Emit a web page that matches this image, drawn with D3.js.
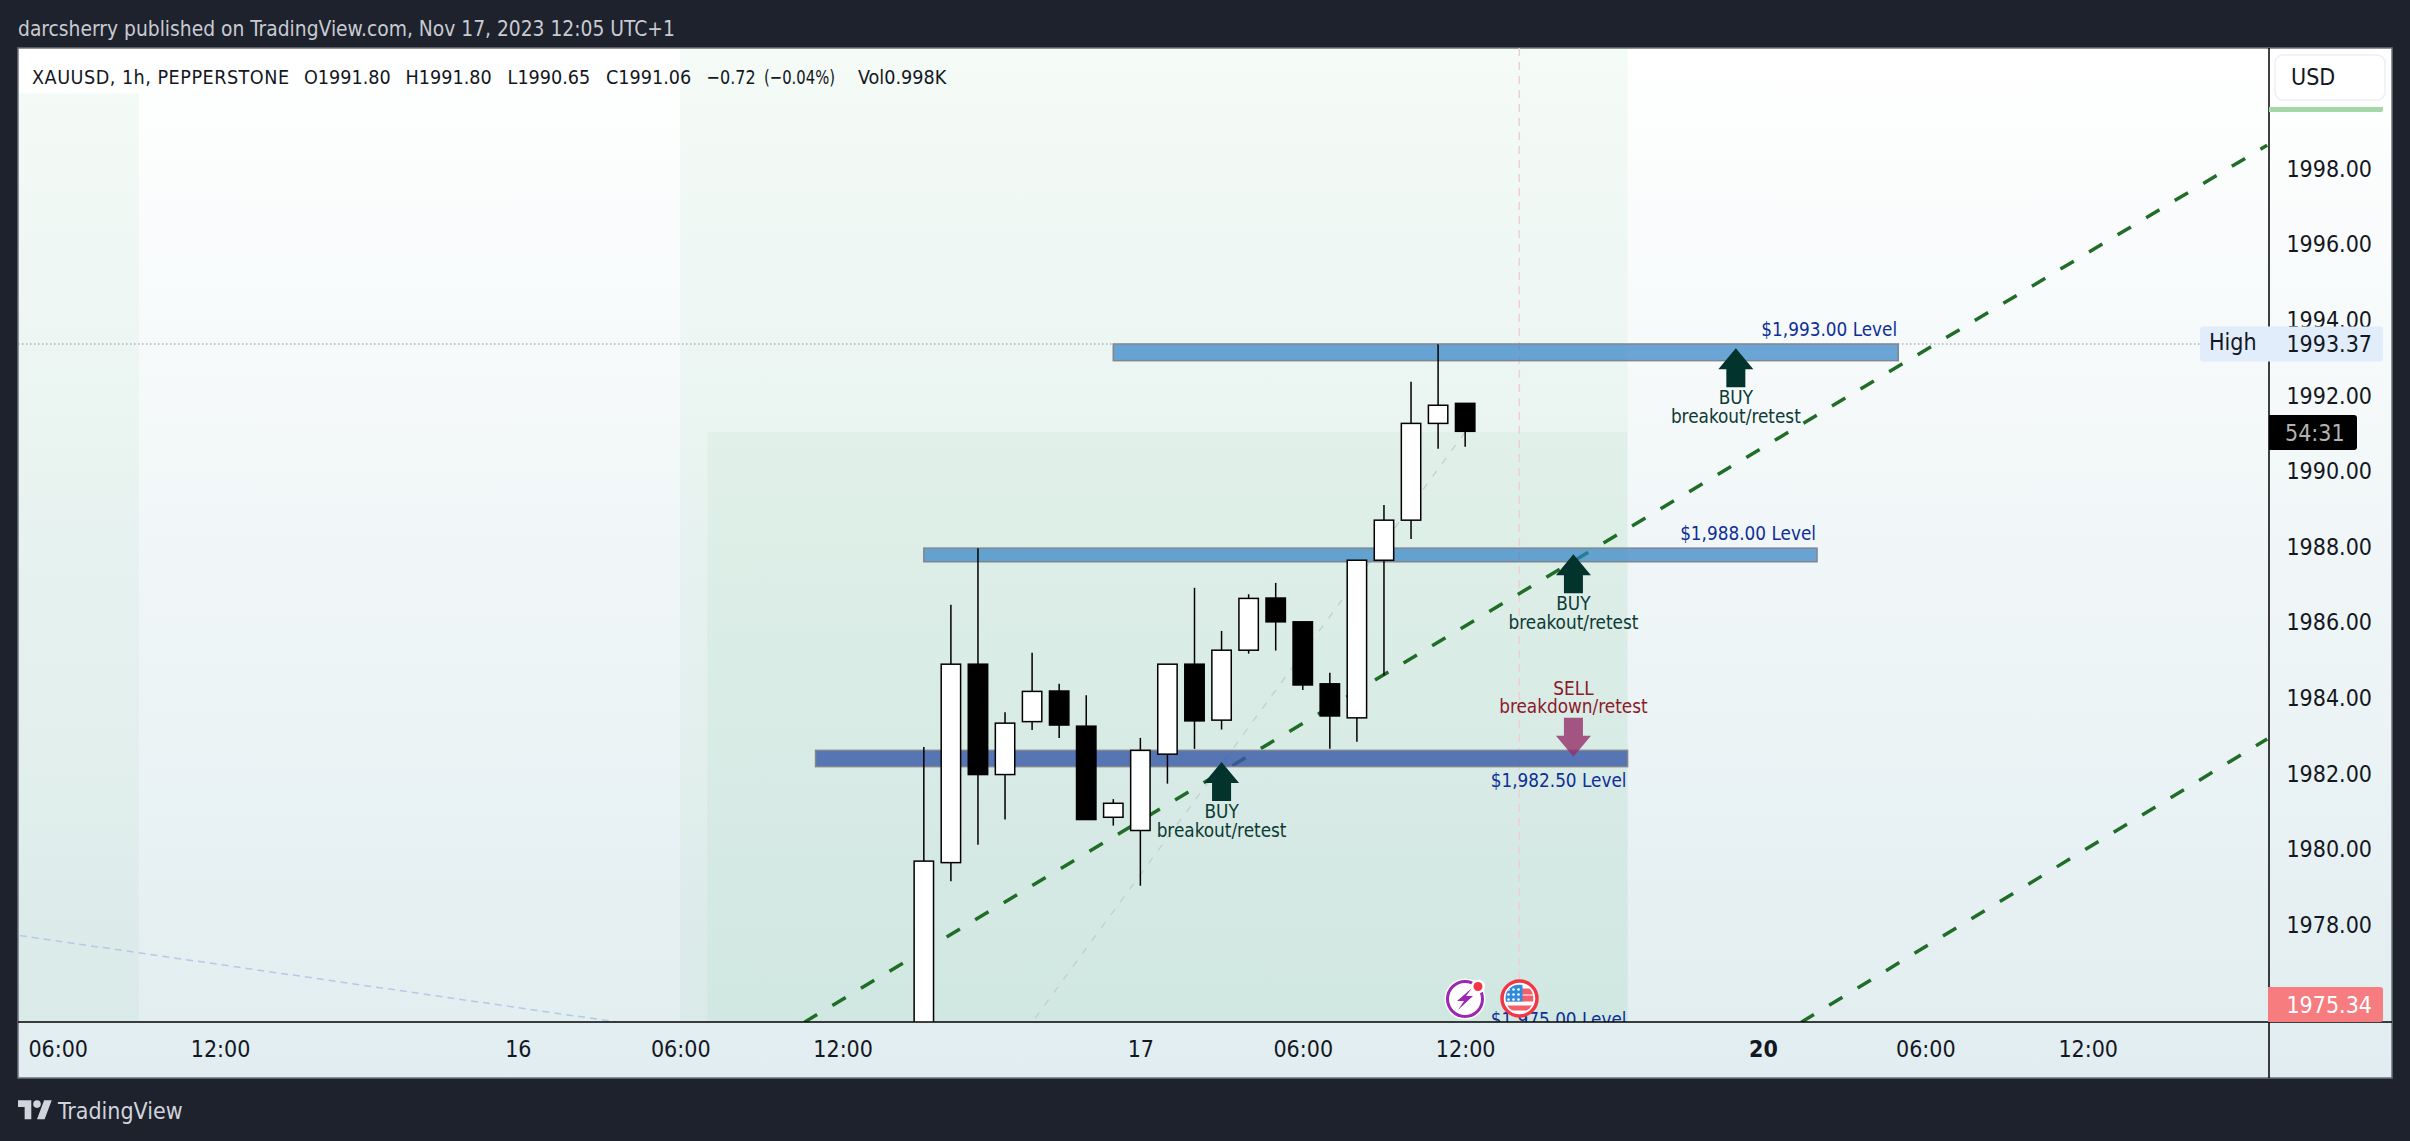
<!DOCTYPE html>
<html><head><meta charset="utf-8">
<script src="https://cdn.jsdelivr.net/npm/d3@7/dist/d3.min.js"></script>
<style>
html,body{margin:0;padding:0;background:#1e222d;overflow:hidden}
svg{display:block}
text{font-family:"DejaVu Sans Condensed","DejaVu Sans",sans-serif;font-stretch:condensed}
</style></head><body>
<script>
// ---- data ----
const barIndex = [-8,-7,-6,-5,-4,-3,-2,-1,0,1,2,3,4,5,6,7,8,9,10,11,12];
const opens  = [1974.5,1979.65,1984.90,1981.98,1983.38,1984.19,1983.26,1980.85,1980.50,1982.52,1984.90,1983.42,1985.27,1986.65,1986.02,1984.38,1983.48,1987.65,1988.71,1991.27,1991.80];
const highs  = [1982.71,1986.47,1987.97,1983.63,1985.20,1984.38,1984.08,1981.33,1982.95,1984.90,1986.92,1985.78,1986.75,1987.05,1986.02,1984.67,1987.65,1989.11,1992.37,1993.37,1991.80];
const lows   = [1974.2,1979.16,1980.12,1980.79,1983.16,1982.95,1980.79,1980.63,1979.04,1981.74,1982.66,1983.17,1985.18,1985.26,1984.22,1982.66,1982.85,1984.60,1988.21,1990.60,1990.65];
const closes = [1979.69,1984.90,1981.98,1983.34,1984.18,1983.29,1980.79,1981.22,1982.62,1984.90,1983.40,1985.27,1986.64,1986.02,1984.35,1983.53,1987.65,1988.71,1991.27,1991.75,1991.06];

const priceTicks = [1998,1996,1994,1992,1990,1988,1986,1984,1982,1980,1978];
const timeTickIdx = [-40,-34,-23,-17,-11,0,6,12,23,29,35];
const timeTickLabels = ["06:00","12:00","16","06:00","12:00","17","06:00","12:00","20","06:00","12:00"];

const levelNames = ["$1,993.00 Level","$1,988.00 Level","$1,982.50 Level"];
const levelStart = [-1,-8,-12];
const levelEnd   = [28,25,18];
const levelTop   = [1993.37,1987.97,1982.62];
const levelBot   = [1992.93,1987.61,1982.19];
const levelFill  = ["#2f80c4","#2f80c4","#3658a6"];
const levelOpacity = [0.7,0.7,0.8];

const trendA = [[-12.41,1975.43],[41.63,1998.63]];
const trendB = [[24.42,1975.43],[41.63,1982.92]];
const faintA = [[12,1991.04],[-4.0,1975.43]];
const faintB = [[-41.4,1977.72],[-19.3,1975.43]];

const zoneStart = [-42,-17,-16];
const zoneEnd   = [-37,18,18];
const zoneTop   = [2000.0,2001.2,1991.04];

const buyIdx   = [22,16,3];
const buyTip   = [1993.26,1987.81,1982.31];
const sellIdx  = [16];
const sellTip  = [1982.45];

const highValue = 1993.37, lastClosePrice = "1975.34", countdown = "54:31", verticalIdx = 14;

// ---- layout ----
const W=2410,H=1141, L=18,T=48,R=2392,B=1078, axisX=2269, axisY=1022;
const x = d3.scaleLinear().domain([-40,35]).range([57.7,2087.7]);
const y = d3.scaleLinear().domain([1998,1978]).range([169,925]);

const svg = d3.select("body").append("svg").attr("width",W).attr("height",H).attr("viewBox",`0 0 ${W} ${H}`);
const defs = svg.append("defs");
const g = defs.append("linearGradient").attr("id","bg").attr("x1",0).attr("x2",0).attr("y1",0).attr("y2",1);
g.append("stop").attr("offset",0).attr("stop-color","#ffffff");
g.append("stop").attr("offset",1).attr("stop-color","#e1edf0");
defs.append("clipPath").attr("id","pane").append("rect").attr("x",L).attr("y",T).attr("width",axisX-L).attr("height",axisY-T);

svg.append("rect").attr("width",W).attr("height",H).attr("fill","#1e222d");
svg.append("text").attr("x",18).attr("y",36).attr("font-size",20.8).attr("fill","#c9cbd3").text("darcsherry published on TradingView.com, Nov 17, 2023 12:05 UTC+1");
svg.append("rect").attr("x",L).attr("y",T).attr("width",R-L).attr("height",B-T).attr("fill","url(#bg)").attr("stroke","#6d717c").attr("stroke-width",1.5);

const pane = svg.append("g").attr("clip-path","url(#pane)");
// zones
pane.selectAll("rect.zone").data(zoneStart).join("rect").attr("class","zone")
  .attr("x",(d)=>x(d)).attr("width",(d,i)=>x(zoneEnd[i])-x(d))
  .attr("y",(d,i)=>y(zoneTop[i])).attr("height",(d,i)=>axisY-y(zoneTop[i]))
  .attr("fill","#3fb45c").attr("fill-opacity",0.05);

const ln = d3.line().x(d=>x(d[0])).y(d=>y(d[1]));
// vertical marker
pane.append("line").attr("x1",x(verticalIdx)).attr("x2",x(verticalIdx)).attr("y1",T).attr("y2",axisY)
  .attr("stroke","#eed0d0").attr("stroke-width",1.5).attr("stroke-dasharray","8 6");
// high line
svg.append("line").attr("x1",L).attr("x2",2200).attr("y1",y(highValue)).attr("y2",y(highValue))
  .attr("stroke","#8a8f99").attr("stroke-width",1).attr("stroke-dasharray","1.5 2.5");
// faint lines
pane.append("path").attr("d",ln(faintA)).attr("fill","none").attr("stroke","#c3cccb").attr("stroke-width",1.2).attr("stroke-dasharray","7 9");
pane.append("path").attr("d",ln(faintB)).attr("fill","none").attr("stroke","#b9c7e6").attr("stroke-width",1.5).attr("stroke-dasharray","7 5");
// trend lines
[trendA,trendB].forEach(t=>pane.append("path").attr("d",ln(t)).attr("fill","none").attr("stroke","#1f6d27").attr("stroke-width",3.5).attr("stroke-dasharray","15.5 17.8").attr("stroke-dashoffset",0.75));
// levels
pane.selectAll("rect.level").data(levelNames).join("rect").attr("class","level")
  .attr("x",(d,i)=>x(levelStart[i])).attr("width",(d,i)=>x(levelEnd[i])-x(levelStart[i]))
  .attr("y",(d,i)=>y(levelTop[i])).attr("height",(d,i)=>y(levelBot[i])-y(levelTop[i]))
  .attr("fill",(d,i)=>levelFill[i]).attr("fill-opacity",(d,i)=>levelOpacity[i])
  .attr("stroke","#80868e").attr("stroke-width",1.5);
// candles
const c = pane.selectAll("g.candle").data(barIndex).join("g").attr("class","candle");
c.append("line").attr("x1",d=>x(d)).attr("x2",d=>x(d))
  .attr("y1",(d,i)=>y(highs[i])).attr("y2",(d,i)=>y(lows[i])).attr("stroke","#000").attr("stroke-width",1.5);
c.append("rect").attr("x",d=>x(d)-9.7).attr("width",19.4)
  .attr("y",(d,i)=>y(Math.max(opens[i],closes[i]))).attr("height",(d,i)=>Math.abs(y(opens[i])-y(closes[i])))
  .attr("fill",(d,i)=>closes[i]>=opens[i]?"#fff":"#000").attr("stroke","#000").attr("stroke-width",1.5);
// level labels
const lblSize=18.8;
pane.selectAll("text.lvl").data(levelNames).join("text").attr("class","lvl")
  .attr("x",(d,i)=>x(levelEnd[i])-1).attr("y",(d,i)=>[336,540,787][i])
  .attr("text-anchor","end").attr("font-size",lblSize).attr("fill","#0f2f96").text(d=>d);
pane.append("text").attr("x",x(18)-1).attr("y",1026).attr("text-anchor","end").attr("font-size",lblSize).attr("fill","#0f2f96").text("$1,975.00 Level");

// arrows
const shape=[[0,0],[17.5,21],[9.5,21],[9.5,39],[-9.5,39],[-9.5,21],[-17.5,21]];
const arrow=(px,py,dir)=>"M"+shape.map(p=>[px+p[0],py+dir*p[1]].join(",")).join("L")+"Z";
buyIdx.forEach((d,i)=>{
  const px=x(d),py=y(buyTip[i]);
  pane.append("path").attr("d",arrow(px,py,1)).attr("fill","#02332c");
  pane.append("text").attr("x",px).attr("y",py+56).attr("text-anchor","middle").attr("font-size",lblSize).attr("fill","#0c3b34").text("BUY");
  pane.append("text").attr("x",px).attr("y",py+74.5).attr("text-anchor","middle").attr("font-size",lblSize).attr("fill","#0c3b34").text("breakout/retest");
});
sellIdx.forEach((d,i)=>{
  const px=x(d),py=y(sellTip[i]);
  pane.append("path").attr("d",arrow(px,py,-1)).attr("fill","#932f66").attr("fill-opacity",0.8);
  pane.append("text").attr("x",px).attr("y",py-62).attr("text-anchor","middle").attr("font-size",lblSize).attr("fill","#8a1a2c").text("SELL");
  pane.append("text").attr("x",px).attr("y",py-43.5).attr("text-anchor","middle").attr("font-size",lblSize).attr("fill","#8a1a2c").text("breakdown/retest");
});

// legend
[["XAUUSD, 1h, PEPPERSTONE",32,null],["O1991.80",304,null],["H1991.80",405.6,null],["L1990.65",507.6,null],["C1991.06",606,null],["\u22120.72",706.6,49],["(\u22120.04%)",764,71],["Vol0.998K",858,null]]
  .forEach(p=>{
    const t=svg.append("text").attr("x",p[1]).attr("y",84).attr("font-size",19.6).attr("fill","#131722").text(p[0]);
    if(p[2]) t.attr("textLength",p[2]).attr("lengthAdjust","spacingAndGlyphs");
    if(p[1]===32) t.attr("letter-spacing",0.5);
  });

// axes
const yAxis = d3.axisRight(y).tickValues(priceTicks).tickSize(0).tickPadding(0).tickFormat(d3.format(".2f"));
const ya = svg.append("g").attr("transform",`translate(${2372},0)`).call(yAxis);
ya.select(".domain").remove();
ya.selectAll("text").attr("x",0).attr("text-anchor","end").attr("font-size",23).attr("fill","#131722");
const xAxis = d3.axisBottom(x).tickValues(timeTickIdx).tickSize(0).tickPadding(0).tickFormat((d,i)=>timeTickLabels[i]);
const xa = svg.append("g").attr("transform",`translate(0,${1049})`).call(xAxis);
xa.select(".domain").remove();
xa.selectAll("text").attr("y",0).attr("dy","0.36em").attr("font-size",23).attr("fill","#131722")
  .attr("font-weight",(d)=>d===23?700:400);

svg.append("line").attr("x1",axisX).attr("x2",axisX).attr("y1",T).attr("y2",B).attr("stroke","#000").attr("stroke-width",1.5);
svg.append("line").attr("x1",L).attr("x2",R).attr("y1",axisY).attr("y2",axisY).attr("stroke","#000").attr("stroke-width",1.5);

// USD button + bar
svg.append("rect").attr("x",2275).attr("y",55).attr("width",110).attr("height",45).attr("rx",8).attr("fill","#fff").attr("stroke","#eeeef5").attr("stroke-width",1.5);
svg.append("text").attr("x",2291).attr("y",85).attr("font-size",23).attr("fill","#131722").text("USD");
svg.append("path").attr("d","M2269 107H2383V110a2 2 0 0 1-2 2H2269Z").attr("fill","#a5d6a7");

// badges
const badgeText=(tx,ty,anchor,fill,t)=>svg.append("text").attr("x",tx).attr("y",ty).attr("dy","0.36em").attr("text-anchor",anchor).attr("font-size",23).attr("fill",fill).text(t);
svg.append("rect").attr("x",2200).attr("y",y(highValue)-17.5).attr("width",183).attr("height",35).attr("rx",3).attr("fill","#e1edfb");
badgeText(2209,y(highValue)-2,"start","#131722","High");
badgeText(2372,y(highValue),"end","#131722",highValue.toFixed(2));
svg.append("path").attr("d","M2269 415H2354a3 3 0 0 1 3 3V447a3 3 0 0 1-3 3H2269Z").attr("fill","#000");
badgeText(2285,432.5,"start","#b2b2b2",countdown);
svg.append("path").attr("d","M2268 987H2380a3 3 0 0 1 3 3V1019a3 3 0 0 1-3 3H2268Z").attr("fill","#f77c80");
badgeText(2372,1004.5,"end","#ffffff",lastClosePrice);

// event icons
const bolt=svg.append("g").attr("transform","translate(1465,999)");
bolt.append("circle").attr("r",20.5).attr("fill","#fff");
bolt.append("circle").attr("r",17.5).attr("fill","none").attr("stroke","#9c27b0").attr("stroke-width",3);
bolt.append("path").attr("d","M7-11L-8 2H-1L-7 11L8-3H1Z").attr("fill","#9c27b0");
bolt.append("circle").attr("cx",13).attr("cy",-12.5).attr("r",7).attr("fill","#fff");
bolt.append("circle").attr("cx",13).attr("cy",-12.5).attr("r",4.5).attr("fill","#f23645");
const fl=svg.append("g").attr("transform","translate(1519.5,998.5)");
defs.append("clipPath").attr("id","flag").append("circle").attr("r",14);
fl.append("circle").attr("r",17.5).attr("fill","#fff").attr("stroke","#f23645").attr("stroke-width",3.5);
const fg=fl.append("g").attr("clip-path","url(#flag)");
fg.append("rect").attr("x",-14).attr("y",-10).attr("width",28).attr("height",6).attr("fill","#f4606a");
fg.append("rect").attr("x",-14).attr("y",-3).attr("width",28).attr("height",6).attr("fill","#f4606a");
fg.append("rect").attr("x",-14).attr("y",7).attr("width",28).attr("height",5).attr("fill","#f4606a");
fg.append("rect").attr("x",-14).attr("y",-14).attr("width",17).attr("height",17).attr("fill","#2f8bdc");
[-11,-6,-1].forEach(a=>[-9,-4,1].forEach(b=>fg.append("circle").attr("cx",a).attr("cy",b).attr("r",1.3).attr("fill","#fff")));

// logo
const lg=svg.append("g").attr("transform","translate(18,1096.5) scale(0.95)").attr("fill","#d1d4dc");
lg.append("path").attr("d","M14 24H7V11H0V4h14v20zM28 24h-8l7.5-20h8L28 24z");
lg.append("circle").attr("cx",20).attr("cy",8).attr("r",4);
svg.append("text").attr("x",58).attr("y",1119).attr("font-size",23).attr("fill","#d1d4dc").text("TradingView");
</script>
</body></html>
